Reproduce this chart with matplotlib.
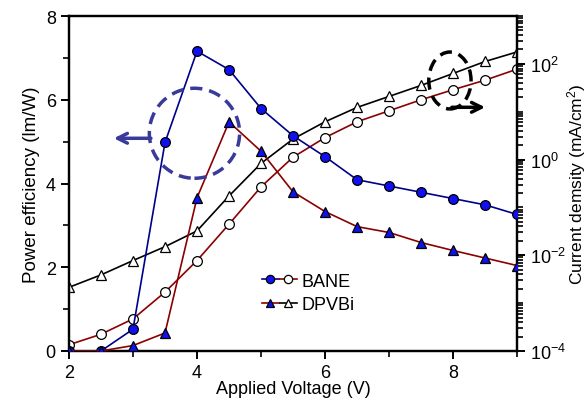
import matplotlib
matplotlib.use("Agg")
import matplotlib.pyplot as plt
from matplotlib.patches import Ellipse
from matplotlib.legend_handler import HandlerTuple
from matplotlib.ticker import LogLocator, NullFormatter, MultipleLocator

plt.rcParams["font.family"] = ["Liberation Sans", "DejaVu Sans"]
plt.rcParams["mathtext.fontset"] = "custom"
plt.rcParams["mathtext.rm"] = "Liberation Sans"
plt.rcParams["mathtext.it"] = "Liberation Sans:italic"

voltage = [2, 2.5, 3, 3.5, 4, 4.5, 5, 5.5, 6, 6.5, 7, 7.5, 8, 8.5, 9]

# power efficiency (lm/W)
bane_pe = [0, 0, 0.52, 4.98, 7.16, 6.72, 5.79, 5.14, 4.64, 4.09, 3.94, 3.79, 3.64, 3.49, 3.26]
dpvbi_pe = [0, 0, 0.13, 0.43, 3.66, 5.47, 4.77, 3.80, 3.33, 2.97, 2.83, 2.59, 2.40, 2.22, 2.04]

# current density exponents (log10 mA/cm2)
bane_j_log = [-3.87, -3.65, -3.33, -2.77, -2.11, -1.35, -0.57, 0.05, 0.46, 0.79, 1.02, 1.25, 1.46, 1.66, 1.89]
dpvbi_j_log = [-2.67, -2.41, -2.11, -1.82, -1.49, -0.76, -0.08, 0.43, 0.79, 1.09, 1.32, 1.55, 1.80, 2.05, 2.25]
bane_j = [10 ** v for v in bane_j_log]
dpvbi_j = [10 ** v for v in dpvbi_j_log]

fig = plt.figure(figsize=(5.87, 4.10), dpi=100)
ax = fig.add_axes([0.1175, 0.1415, 0.7635, 0.817])
ax2 = ax.twinx()

mk = dict(ms=7, mec="black", mew=0.9, lw=1.2)
blue = "#1010f0"

l1, = ax.plot(voltage, bane_pe, "o-", color="#00008b", mfc=blue, zorder=5, **mk)
l2, = ax.plot(voltage, dpvbi_pe, "^-", color="#8b0000", mfc=blue, zorder=5, **mk)
l3, = ax2.plot(voltage, bane_j, "o-", color="#8b0000", mfc="white", **mk)
l4, = ax2.plot(voltage, dpvbi_j, "^-", color="black", mfc="white", **mk)

ax.set_zorder(ax2.get_zorder() + 1)
ax.patch.set_visible(False)

ax.set_xlim(2, 9)
ax.set_ylim(0, 8)
ax.xaxis.set_major_locator(MultipleLocator(2))
ax.xaxis.set_minor_locator(MultipleLocator(1))
ax.yaxis.set_major_locator(MultipleLocator(2))
ax.yaxis.set_minor_locator(MultipleLocator(1))

ax2.set_yscale("log")
ax2.set_ylim(1e-4, 1e3)
ax2.yaxis.set_major_locator(LogLocator(base=100))
ax2.yaxis.set_minor_locator(LogLocator(base=10, subs=range(1, 10), numticks=50))
ax2.yaxis.set_minor_formatter(NullFormatter())

for a in (ax, ax2):
    for s in a.spines.values():
        s.set_linewidth(1.6)
    a.tick_params(which="major", direction="out", length=6, width=1.4, labelsize=13)
    a.tick_params(which="minor", direction="out", length=4, width=1.2)

ax.set_xlabel("Applied Voltage (V)", fontsize=13, labelpad=-1)
ax.set_ylabel("Power efficiency (lm/W)", fontsize=13.5, labelpad=4)
ax2.set_ylabel("Current demsity (mA/cm$^2$)", fontsize=12.5, labelpad=-1)

# annotations
arrow_style = "->,head_length=0.7,head_width=0.35"
ax.add_patch(Ellipse((3.96, 5.2), 1.41, 2.15, fill=False, ls=(0, (3.5, 2)),
                     lw=2.5, color="#3a3a9a", zorder=6))
ax.annotate("", xy=(2.7, 5.08), xytext=(3.28, 5.08),
            arrowprops=dict(arrowstyle=arrow_style, lw=2.5, color="#3a3a9a",
                            shrinkA=0, shrinkB=0), zorder=6)
ax.add_patch(Ellipse((7.95, 6.46), 0.66, 1.36, fill=False, ls=(0, (3.5, 2)),
                     lw=2.5, color="black", zorder=6))
ax.annotate("", xy=(8.5, 5.82), xytext=(7.98, 5.82),
            arrowprops=dict(arrowstyle=arrow_style, lw=2.5, color="black",
                            shrinkA=0, shrinkB=0), zorder=6)

ax.legend([(l1, l3), (l2, l4)], ["BANE", "DPVBi"],
          handler_map={tuple: HandlerTuple(ndivide=None, pad=0.1)},
          loc="lower left", bbox_to_anchor=(0.395, 0.065), frameon=False,
          fontsize=13, handlelength=1.9, handletextpad=0.3, labelspacing=0.35,
          markerscale=0.85)

fig.savefig("out.png", dpi=100)
